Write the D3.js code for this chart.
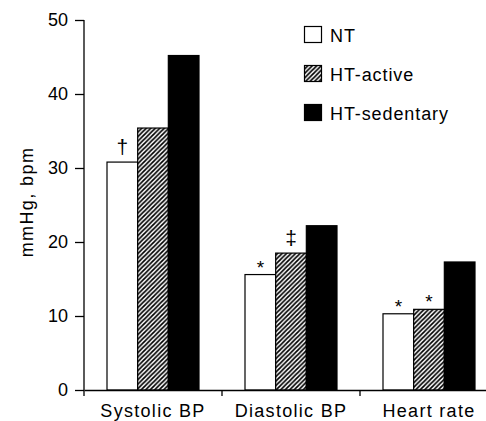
<!DOCTYPE html>
<html>
<head>
<meta charset="utf-8">
<script src="https://cdn.jsdelivr.net/npm/d3@7"></script>
<style>
  html, body { margin: 0; padding: 0; background: #fff; }
  svg { display: block; }
  text { font-family: "Liberation Sans", Arial, Helvetica, sans-serif; fill: #000; }
</style>
</head>
<body>
<script>
const categories = ["Systolic BP", "Diastolic BP", "Heart rate"];
const seriesNames = ["NT", "HT-active", "HT-sedentary"];
const NT = [30.8, 15.6, 10.3];
const HTactive = [35.4, 18.5, 10.9];
const HTsedentary = [45.2, 22.2, 17.3];
const marks = [["†", "", ""], ["*", "‡", ""], ["*", "*", ""]]; // [category][series]
const yTicks = [0, 10, 20, 30, 40, 50];

const values = [NT, HTactive, HTsedentary];
const W = 486, H = 421;
const svg = d3.select("body").append("svg").attr("width", W).attr("height", H);

const defs = svg.append("defs");
const pat = defs.append("pattern")
  .attr("id", "hatch").attr("patternUnits", "userSpaceOnUse")
  .attr("width", 4.5).attr("height", 4.5);
pat.append("rect").attr("width", 4.5).attr("height", 4.5).attr("fill", "#fff");
pat.append("path").attr("d", "M-1,5.5L5.5,-1M-1,1L1,-1M3.5,5.5L5.5,3.5")
  .attr("stroke", "#000").attr("stroke-width", 1.7);

const fills = ["#fff", "url(#hatch)", "#000"];

const x0 = d3.scaleBand().domain(categories).range([84, 498]).padding(0);
const x1 = d3.scaleBand().domain(seriesNames).range([0, x0.bandwidth()])
  .paddingInner(0).paddingOuter(0.75);
const y = d3.scaleLinear().domain([0, 50]).range([390, 20]);

// bars
categories.forEach((c, ci) => {
  seriesNames.forEach((s, si) => {
    const v = values[si][ci];
    svg.append("rect")
      .attr("x", x0(c) + x1(s))
      .attr("y", y(v))
      .attr("width", x1.bandwidth())
      .attr("height", y(0) - y(v))
      .attr("fill", fills[si])
      .attr("stroke", "#000")
      .attr("stroke-width", 1.2);
    const m = marks[ci][si];
    if (m) {
      svg.append("text")
        .attr("x", x0(c) + x1(s) + x1.bandwidth() / 2)
        .attr("y", y(v) - (m === "*" ? 1 : 8))
        .attr("text-anchor", "middle")
        .attr("font-size", m === "*" ? 19 : 21)
        .text(m);
    }
  });
});

// y axis
const yAxis = d3.axisLeft(y).tickValues(yTicks).tickSize(9).tickPadding(7);
const gy = svg.append("g").attr("transform", "translate(84,0)").call(yAxis);
gy.select(".domain").attr("d", "M0,20V396").attr("stroke-width", 1.3);
gy.selectAll(".tick line").attr("stroke-width", 1.3);
gy.selectAll(".tick text").attr("font-size", 18).attr("font-family", "Liberation Sans, Arial, sans-serif");

// x axis
const xAxis = d3.axisBottom(x0).tickSize(0).tickPadding(14);
const gx = svg.append("g").attr("transform", "translate(0,390)").call(xAxis);
gx.select(".domain").attr("stroke-width", 1.3);
gx.selectAll(".tick text").attr("font-size", 18).attr("letter-spacing", "1.3px")
  .attr("font-family", "Liberation Sans, Arial, sans-serif");
// separator ticks at band boundaries
gx.selectAll(".sep").data(categories.slice(1).concat(["end"]))
  .enter().append("line").attr("class", "sep")
  .attr("x1", (d, i) => x0.range()[0] + (i + 1) * x0.step())
  .attr("x2", (d, i) => x0.range()[0] + (i + 1) * x0.step())
  .attr("y1", 0).attr("y2", 6).attr("stroke", "#000").attr("stroke-width", 1.3);

// y label
svg.append("text")
  .attr("transform", "translate(33,202) rotate(-90)")
  .attr("text-anchor", "middle")
  .attr("font-size", 18)
  .attr("letter-spacing", "1.4px")
  .text("mmHg, bpm");

// legend
const lg = svg.append("g").attr("transform", "translate(304,26)");
seriesNames.forEach((s, i) => {
  const g = lg.append("g").attr("transform", `translate(0,${i * 39})`);
  g.append("rect").attr("x", 0.5).attr("y", 0.5).attr("width", 17).attr("height", 16)
    .attr("fill", fills[i]).attr("stroke", "#000").attr("stroke-width", 1.2);
  g.append("text").attr("x", 26).attr("y", 16).attr("font-size", 18)
    .attr("letter-spacing", "0.9px").text(s);
});
</script>
</body>
</html>
